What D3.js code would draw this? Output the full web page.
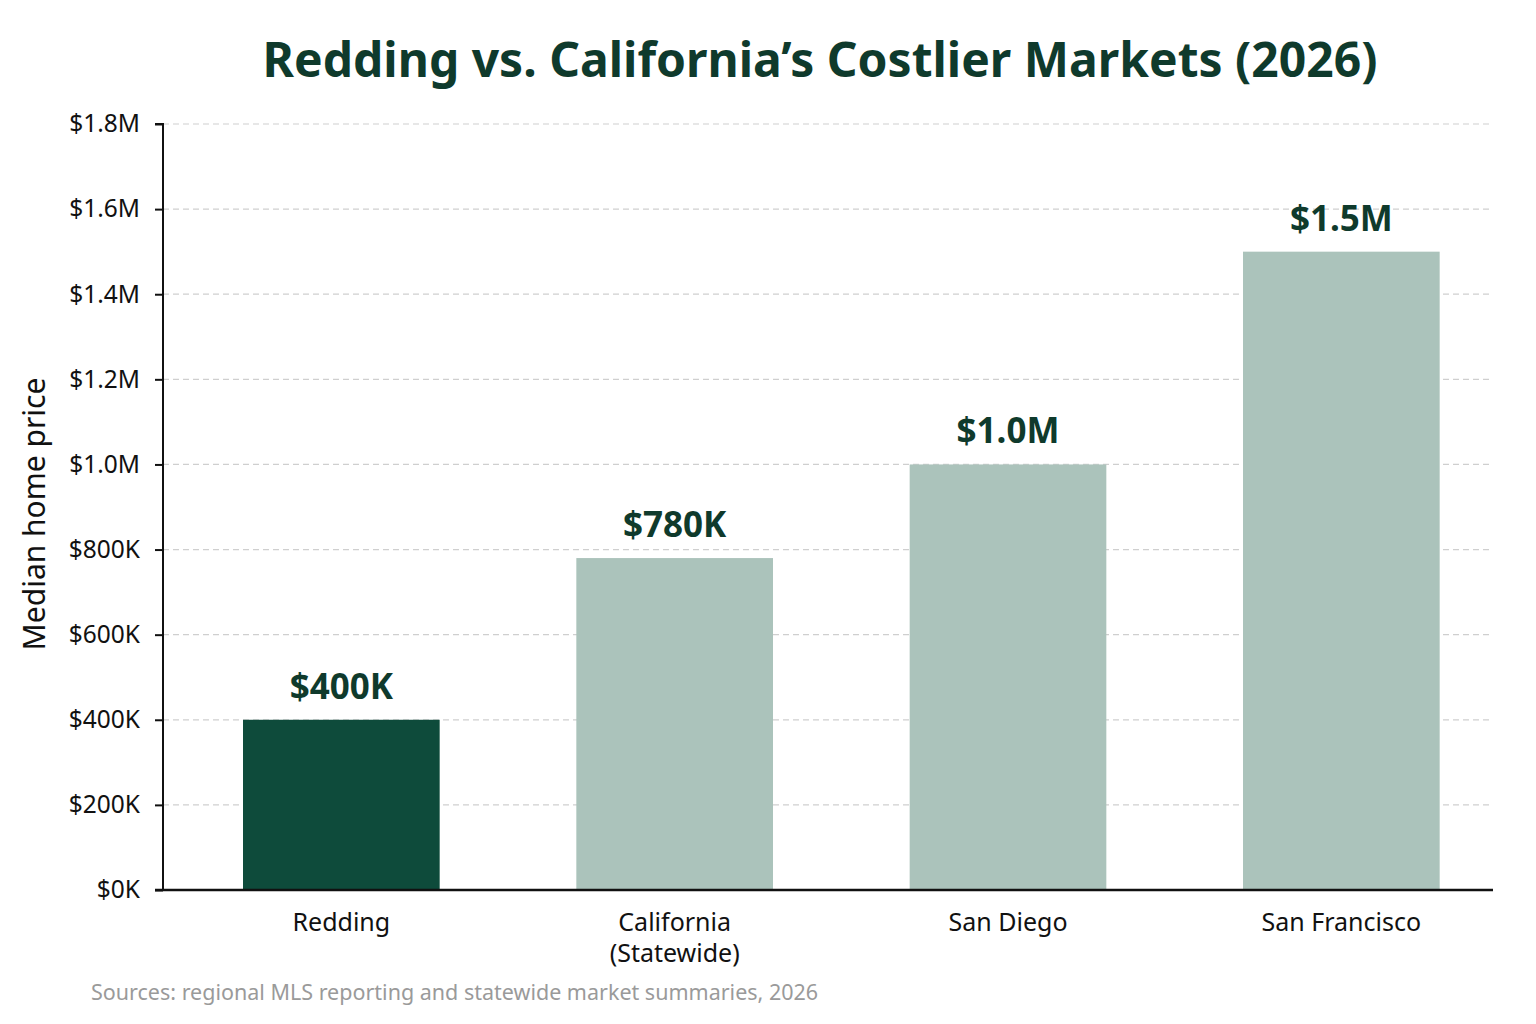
<!DOCTYPE html>
<html>
<head>
<meta charset="utf-8">
<script src="https://cdn.jsdelivr.net/npm/d3@7"></script>
<style>
  body { margin: 0; background: #fff; }
  text { font-family: "Noto Sans", sans-serif; }
</style>
</head>
<body>
<div id="chart"></div>
<script>
// data
var categories = ["Redding", "California (Statewide)", "San Diego", "San Francisco"];
var catLines = [["Redding"], ["California", "(Statewide)"], ["San Diego"], ["San Francisco"]];
var prices = [400000, 780000, 1000000, 1500000];
var priceLabels = ["$400K", "$780K", "$1.0M", "$1.5M"];
var yTicks = [0, 200000, 400000, 600000, 800000, 1000000, 1200000, 1400000, 1600000, 1800000];
var yTickLabels = ["$0K", "$200K", "$400K", "$600K", "$800K", "$1.0M", "$1.2M", "$1.4M", "$1.6M", "$1.8M"];

function main() {
    var W = 1536, H = 1024;
    var margin = {top: 124, right: 43, bottom: 134, left: 163},
        width = W - margin.left - margin.right,
        height = H - margin.top - margin.bottom;

    var svg = d3.select("#chart")
        .append("svg")
        .attr("width", W)
        .attr("height", H);

    // title
    svg.append("text")
        .attr("x", 820)
        .attr("y", 77)
        .attr("text-anchor", "middle")
        .attr("font-size", "48px")
        .attr("font-weight", "bold")
        .attr("fill", "#0f3a2c")
        .text("Redding vs. California\u2019s Costlier Markets (2026)");

    var g = svg.append("g")
        .attr("transform", "translate(" + margin.left + "," + margin.top + ")");

    var x = d3.scaleBand()
        .domain(categories)
        .range([0, width])
        .paddingInner(0.41)
        .paddingOuter(0.2)
        .align(0.6);

    var y = d3.scaleLinear()
        .domain([0, 1800000])
        .range([height, 0]);

    // dashed grid
    g.append("g")
        .selectAll("line")
        .data(yTicks.slice(1))
        .join("line")
        .attr("x1", 0)
        .attr("x2", width)
        .attr("y1", function (d) { return y(d); })
        .attr("y2", function (d) { return y(d); })
        .attr("stroke", "#cfcfcf")
        .attr("stroke-width", 1.2)
        .attr("stroke-dasharray", "6,4");

    // bars
    g.append("g")
        .selectAll("rect")
        .data(prices)
        .join("rect")
        .attr("x", function (d, i) { return x(categories[i]); })
        .attr("width", x.bandwidth())
        .attr("y", function (d) { return y(d); })
        .attr("height", function (d) { return height - y(d); })
        .attr("fill", function (d, i) { return i === 0 ? "#0e4b3b" : "#abc3bb"; });

    // value labels
    g.append("g")
        .selectAll("text")
        .data(prices)
        .join("text")
        .attr("x", function (d, i) { return x(categories[i]) + x.bandwidth() / 2; })
        .attr("y", function (d) { return y(d) - 21; })
        .attr("text-anchor", "middle")
        .attr("font-size", "35px")
        .attr("font-weight", "bold")
        .attr("fill", "#0f3a2c")
        .text(function (d, i) { return priceLabels[i]; });

    // y axis
    var yAxis = g.append("g")
        .call(d3.axisLeft(y)
            .tickValues(yTicks)
            .tickFormat(function (d, i) { return yTickLabels[i]; })
            .tickSize(8)
            .tickPadding(15));
    yAxis.select(".domain").attr("stroke", "#111").attr("stroke-width", 2).attr("d", "M-8,0H0V" + height);
    yAxis.selectAll(".tick line").attr("stroke", "#111").attr("stroke-width", 2);
    yAxis.selectAll(".tick text")
        .attr("font-family", "Noto Sans, sans-serif")
        .attr("font-size", "24.5px")
        .attr("fill", "#111");

    // x axis
    var xAxis = g.append("g")
        .attr("transform", "translate(0," + height + ")")
        .call(d3.axisBottom(x).tickSize(0).tickFormat(""));
    xAxis.select(".domain").attr("stroke", "#111").attr("stroke-width", 2.5).attr("d", "M-8,0H" + width);

    xAxis.selectAll(".tick").each(function (d, i) {
        var t = d3.select(this).append("text")
            .attr("text-anchor", "middle")
            .attr("font-family", "Noto Sans, sans-serif")
            .attr("font-size", "25px")
            .attr("fill", "#111");
        catLines[i].forEach(function (line, j) {
            t.append("tspan")
                .attr("x", 0)
                .attr("y", 41 + j * 31)
                .text(line);
        });
    });

    // y label
    svg.append("text")
        .attr("transform", "translate(45," + (margin.top + height / 2 + 7) + ") rotate(-90)")
        .attr("text-anchor", "middle")
        .attr("font-size", "30px")
        .attr("fill", "#111")
        .text("Median home price");

    // source
    svg.append("text")
        .attr("x", 91)
        .attr("y", 1000)
        .attr("font-size", "21.5px")
        .attr("fill", "#9a9a9a")
        .text("Sources: regional MLS reporting and statewide market summaries, 2026");
}

main();
</script>
</body>
</html>
